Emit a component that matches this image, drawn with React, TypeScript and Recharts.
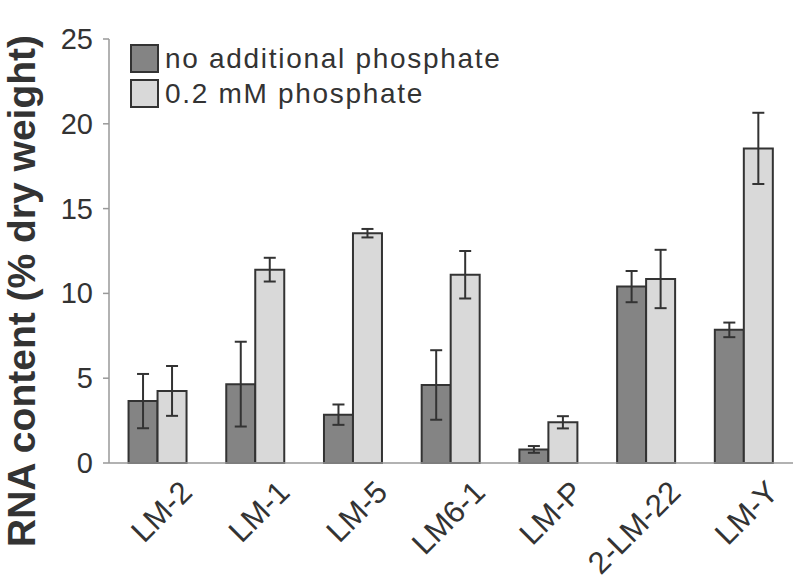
import { BarChart, Bar, XAxis, YAxis, ErrorBar } from "recharts";

const strains = ["LM-2", "LM-1", "LM-5", "LM6-1", "LM-P", "2-LM-22", "LM-Y"];
const noPhosphate = [3.65, 4.65, 2.85, 4.6, 0.8, 10.4, 7.85];
const noPhosphateErr = [1.6, 2.5, 0.6, 2.05, 0.2, 0.92, 0.43];
const withPhosphate = [4.25, 11.4, 13.55, 11.1, 2.4, 10.85, 18.55];
const withPhosphateErr = [1.47, 0.7, 0.25, 1.4, 0.36, 1.72, 2.1];
const yTicks = [0, 5, 10, 15, 20, 25];

const DARK = "#848484";
const LIGHT = "#d9d9d9";
const INK = "#333333";
const FONT = "Liberation Sans, Arial, sans-serif";

const data = strains.map((name, i) => ({
  name,
  none: noPhosphate[i],
  noneErr: noPhosphateErr[i],
  phos: withPhosphate[i],
  phosErr: withPhosphateErr[i],
}));

const YTick = ({ x, y, payload }: any) => (
  <text x={x - 8} y={y + 10} textAnchor="end" fontSize={29} fill={INK} fontFamily={FONT}>
    {payload.value}
  </text>
);

const XTick = ({ x, payload }: any) => (
  <g transform={`translate(${x + 36},494)`}>
    <text textAnchor="end" transform="rotate(-45)" fontSize={31} fill={INK} fontFamily={FONT}>
      {payload.value}
    </text>
  </g>
);

const YLabel = () => (
  <text
    transform="translate(35,291) rotate(-90)"
    textAnchor="middle"
    fontSize={39}
    fontWeight="bold"
    fill={INK}
    fontFamily={FONT}
  >
    RNA content (% dry weight)
  </text>
);

const legendItems = [
  { label: "no additional phosphate", color: DARK },
  { label: "0.2 mM phosphate", color: LIGHT },
];

export default function App() {
  return (
    <div style={{ position: "absolute", left: 0, top: 0, width: 800, height: 586, background: "#fff" }}>
      <BarChart
        width={800}
        height={586}
        data={data}
        margin={{ top: 39, right: 7, bottom: 0, left: 0 }}
        barCategoryGap="20%"
        barGap={0}
      >
        <XAxis
          dataKey="name"
          height={123}
          axisLine={{ stroke: "#999", strokeWidth: 1.5 }}
          tickLine={false}
          tick={<XTick />}
          interval={0}
        />
        <YAxis
          width={109}
          domain={[0, 25]}
          ticks={yTicks}
          axisLine={{ stroke: "#999", strokeWidth: 1.5 }}
          tickLine={{ stroke: "#999", strokeWidth: 1.5 }}
          tickSize={6}
          tick={<YTick />}
          label={<YLabel />}
        />
        <Bar dataKey="none" fill={DARK} stroke={INK} strokeWidth={2} isAnimationActive={false}>
          <ErrorBar dataKey="noneErr" width={6} stroke={INK} strokeWidth={2} />
        </Bar>
        <Bar dataKey="phos" fill={LIGHT} stroke={INK} strokeWidth={2} isAnimationActive={false}>
          <ErrorBar dataKey="phosErr" width={6} stroke={INK} strokeWidth={2} />
        </Bar>
      </BarChart>
      <div style={{ position: "absolute", left: 130, top: 41, fontFamily: FONT }}>
        {legendItems.map((item) => (
          <div key={item.label} style={{ display: "flex", alignItems: "center", height: 35 }}>
            <div
              style={{
                width: 25,
                height: 25,
                background: item.color,
                border: `2px solid ${INK}`,
                marginRight: 6,
                boxSizing: "content-box",
              }}
            />
            <span style={{ fontSize: 28, letterSpacing: 1.7, color: INK, lineHeight: 1 }}>{item.label}</span>
          </div>
        ))}
      </div>
    </div>
  );
}
